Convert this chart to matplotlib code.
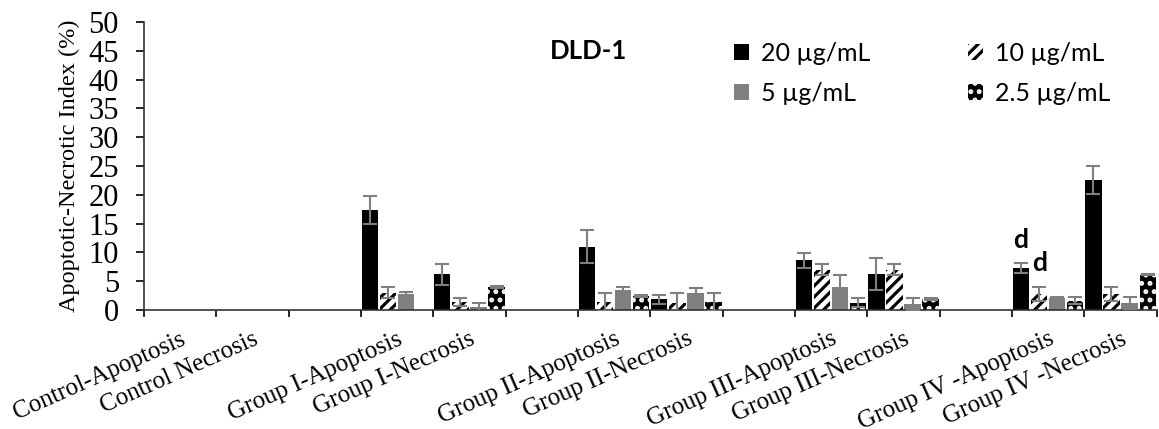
"""Apoptotic-necrotic index bar chart for DLD-1 cells."""

import matplotlib

matplotlib.use("Agg")
import matplotlib.patches as mpatches  # noqa: E402
import matplotlib.pyplot as plt  # noqa: E402
import numpy as np  # noqa: E402

CATEGORIES = [
    "Control-Apoptosis",
    "Control Necrosis",
    "",
    "Group I-Apoptosis",
    "Group I-Necrosis",
    "",
    "Group II-Apoptosis",
    "Group II-Necrosis",
    "",
    "Group III-Apoptosis",
    "Group III-Necrosis",
    "",
    "Group IV -Apoptosis",
    "Group IV -Necrosis",
]
DOSES = ["20 µg/mL", "10 µg/mL", "5 µg/mL", "2.5 µg/mL"]

VAL_20 = [0, 0, 0, 17.4, 6.2, 0, 11.0, 1.85, 0, 8.6, 6.2, 0, 7.3, 22.6]
ERR_20 = [0, 0, 0, 2.4, 1.8, 0, 2.9, 0.75, 0, 1.3, 2.8, 0, 0.8, 2.4]
VAL_10 = [0, 0, 0, 3.0, 1.4, 0, 1.4, 1.3, 0, 7.0, 7.0, 0, 2.8, 2.8]
ERR_10 = [0, 0, 0, 1.0, 0.7, 0, 1.5, 1.6, 0, 1.0, 1.0, 0, 1.2, 1.2]
VAL_5 = [0, 0, 0, 2.7, 0.5, 0, 3.5, 2.9, 0, 4.0, 1.0, 0, 2.0, 1.2]
ERR_5 = [0, 0, 0, 0.5, 0.8, 0, 0.5, 1.0, 0, 2.1, 1.0, 0, 0.2, 1.0]
VAL_25 = [0, 0, 0, 0, 4.0, 0, 2.4, 1.4, 0, 1.3, 1.9, 0, 1.6, 6.1]
ERR_25 = [0, 0, 0, 0, 0.1, 0, 0.2, 1.5, 0, 0.8, 0.2, 0, 0.6, 0.1]

# significance letters: (category index, dose index, letter)
MARKS = [(12, 0, "d"), (12, 1, "d")]

SERIF = "Liberation Serif"
SANS = "Lato"

# face, edge (hatch colour), hatch
STYLES = [
    ("black", "black", None),
    ("white", "black", "///"),
    ("#808080", "#808080", None),
    ("black", "white", ".."),
]


def main() -> None:
    plt.rcParams["hatch.linewidth"] = 2.3
    values = [VAL_20, VAL_10, VAL_5, VAL_25]
    errors = [ERR_20, ERR_10, ERR_5, ERR_25]

    fig = plt.figure(figsize=(11.59, 4.29), dpi=100)
    ax = fig.add_axes([0.1242, 0.2774, 0.8738, 0.6713])

    x = np.arange(len(CATEGORIES))
    width = 0.225
    for k, (vals, errs) in enumerate(zip(values, errors)):
        vals = np.array(vals, dtype=float)
        errs = np.array(errs, dtype=float)
        face, edge, hatch = STYLES[k]
        pos = x + (k - 1.5) * 0.25
        ax.bar(pos, vals, width, color=face, edgecolor=edge, hatch=hatch, linewidth=0, zorder=2)
        mask = vals > 0
        ax.errorbar(
            pos[mask],
            vals[mask],
            yerr=errs[mask],
            fmt="none",
            ecolor="#7f7f7f",
            elinewidth=1.5,
            capsize=5,
            capthick=1.5,
            zorder=3,
        )

    for cat, dose, letter in MARKS:
        pos = x[cat] + (dose - 1.5) * 0.25
        top = values[dose][cat] + errors[dose][cat]
        ax.text(pos, top + 2.0, letter, ha="center", va="bottom", fontsize=19,
                fontweight="bold", family=SANS)

    ax.set_xlim(-0.5, len(CATEGORIES) - 0.5)
    ax.set_ylim(0, 50)
    ax.set_yticks(np.arange(0, 51, 5))
    ax.tick_params(axis="y", labelsize=22, length=6, width=1.2, pad=12)
    for lab in ax.get_yticklabels():
        lab.set_family(SERIF)

    ax.set_xticks(x)
    ax.set_xticklabels(CATEGORIES, rotation=24, ha="right", rotation_mode="anchor",
                       fontsize=18, family=SERIF)
    ax.tick_params(axis="x", length=0, pad=13)
    ax.set_xticks(np.arange(len(CATEGORIES) + 1) - 0.5, minor=True)
    ax.tick_params(axis="x", which="minor", length=5, width=1.2)

    for side in ("top", "right"):
        ax.spines[side].set_visible(False)
    for side in ("left", "bottom"):
        ax.spines[side].set_linewidth(1.2)
        ax.spines[side].set_color("#333333")

    ax.set_ylabel("Apoptotic-Necrotic Index (%)", fontsize=17.5, family=SERIF, labelpad=6)

    ax.text(0.439, 0.9, "DLD-1", transform=ax.transAxes, fontsize=18.5, fontweight="bold",
            family=SANS, ha="center", va="center")

    handles = []
    for k in (0, 2, 1, 3):
        face, edge, hatch = STYLES[k]
        handles.append(mpatches.Patch(facecolor=face, edgecolor=edge, hatch=hatch,
                                      linewidth=0, label=DOSES[k]))
    ax.legend(
        handles=handles,
        ncol=2,
        loc="upper left",
        bbox_to_anchor=(0.56, 1.01),
        frameon=False,
        prop={"family": SANS, "size": 18},
        handlelength=0.6,
        handleheight=0.6,
        handletextpad=0.5,
        columnspacing=3.9,
        labelspacing=0.7,
    )

    fig.savefig("out.png", dpi=100)
    plt.close(fig)


if __name__ == "__main__":
    main()
